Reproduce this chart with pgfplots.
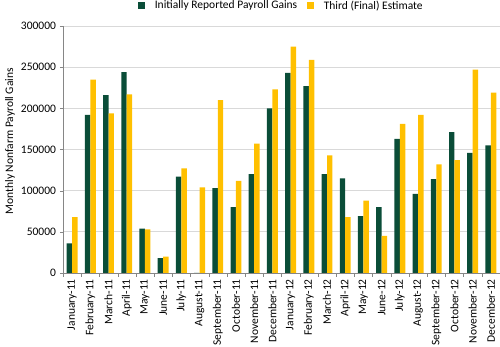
\documentclass[border=0pt]{standalone}
\usepackage{pgfplots}
\pgfplotsset{compat=1.18}
\usepackage{fontspec}
\setmainfont{Carlito}
\definecolor{dgreen}{RGB}{10,77,56}
\definecolor{gold}{RGB}{255,192,0}
\definecolor{gridc}{RGB}{217,217,217}
\definecolor{axc}{RGB}{134,134,134}
\begin{document}
\fontsize{11.5}{13.5}\selectfont
\begin{tikzpicture}
\begin{axis}[
  name=ax,
  scale only axis,
  width=437pt, height=247pt,
  xmin=-0.5, xmax=23.5,
  ymin=0, ymax=300000,
  ybar, bar width=0.3,
  axis x line*=bottom, axis y line*=left,
  axis line style={axc},
  xtick={0,...,23},
  xticklabels={January-11,February-11,March-11,April-11,May-11,June-11,July-11,August-11,September-11,October-11,November-11,December-11,January-12,February-12,March-12,April-12,May-12,June-12,July-12,August-12,September-12,October-12,November-12,December-12},
  x tick label style={rotate=90, anchor=east, inner sep=3pt},
  major x tick style={draw=none},
  minor xtick={-0.5,0.5,...,23.5},
  minor x tick style={axc},
  minor tick length=4pt,
  tick align=outside,
  ytick={0,50000,...,300000},
  major y tick style={axc},
  major tick length=3pt,
  scaled y ticks=false,
  yticklabel style={/pgf/number format/fixed, /pgf/number format/1000 sep={}},
  /pgf/number format/assume math mode=true,
  ymajorgrids, grid style={gridc, line width=0.8pt},
  ylabel={Monthly Nonfarm Payroll Gains},
  ylabel style={at={(axis description cs:-0.121,0.534)}, anchor=center},
  legend columns=2,
  legend style={draw=none, at={(0.5,1)}, anchor=south, yshift=11pt, column sep=8pt, font=\fontsize{11.5}{13.5}\selectfont},
  legend image code/.code={\fill[#1] (0pt,-3pt) rectangle (6.5pt,3.5pt);},
]
\addplot[fill=dgreen, draw=none, bar shift=-0.15] coordinates {
(0,36000) (1,192000) (2,216000) (3,244000) (4,54000) (5,18000) (6,117000) (7,0) (8,103000) (9,80000) (10,120000) (11,200000)
(12,243000) (13,227000) (14,120000) (15,115000) (16,69000) (17,80000) (18,163000) (19,96000) (20,114000) (21,171000) (22,146000) (23,155000)};
\addplot[fill=gold, draw=none, bar shift=0.15] coordinates {
(0,68000) (1,235000) (2,194000) (3,217000) (4,53000) (5,20000) (6,127000) (7,104000) (8,210000) (9,112000) (10,157000) (11,223000)
(12,275000) (13,259000) (14,143000) (15,68000) (16,88000) (17,45000) (18,181000) (19,192000) (20,132000) (21,137000) (22,247000) (23,219000)};
\legend{Initially Reported Payroll Gains, Third (Final) Estimate}
\end{axis}
\pgfresetboundingbox
\path (ax.south west) ++(-63pt,-74pt) rectangle ([xshift=0pt,yshift=26pt]ax.north east);
\end{tikzpicture}
\end{document}
